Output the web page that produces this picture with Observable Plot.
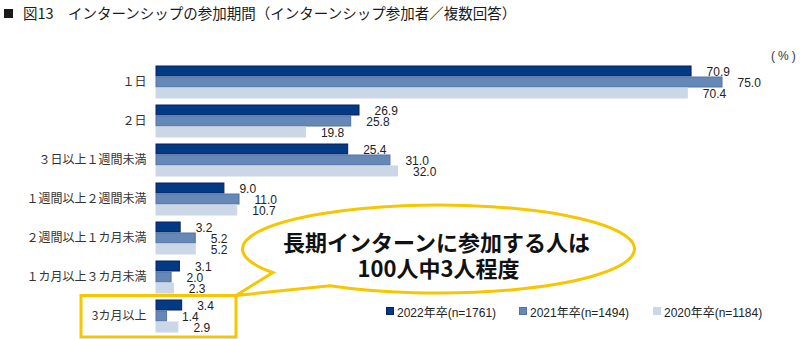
<!DOCTYPE html>
<html lang="ja">
<head>
<meta charset="utf-8">
<script src="https://cdn.jsdelivr.net/npm/d3@7"></script>
<script src="https://cdn.jsdelivr.net/npm/@observablehq/plot@0.6"></script>
<style>
  html, body { margin: 0; padding: 0; background: #fff; }
  body { width: 800px; height: 339px; overflow: hidden; position: relative; font-family: "Noto Sans CJK JP", sans-serif; }
  #title { position: relative; height: 26px; line-height: 26px; font-size: 14.5px; color: #1a1a1a; white-space: nowrap; }
  #title .sq { position: absolute; left: 4px; top: 9px; width: 9px; height: 9px; background: #1a1a1a; }
  #title .tx { position: absolute; left: 23px; top: 0; }
  #unit { position: absolute; left: 771px; top: 49px; font-size: 12px; color: #333; letter-spacing: 3px; font-family: "Liberation Sans", sans-serif; white-space: nowrap; }
  #legend { position: absolute; left: 386px; top: 304px; font-size: 12px; color: #222; font-family: "Liberation Sans", "Noto Sans CJK JP", sans-serif; white-space: nowrap; }
  #legend .it { position: absolute; top: 0; line-height: 18px; }
  #legend .sw { display: inline-block; width: 6px; height: 6px; margin-right: 3px; vertical-align: 2px; }
  svg { display: block; }
</style>
</head>
<body>
<div id="title"><span class="sq"></span><span class="tx">図13　インターンシップの参加期間（インターンシップ参加者／複数回答）</span></div>
<div id="chart"></div>
<div id="unit">(%)</div>
<div id="legend"></div>
<script>
const categories = ["１日", "２日", "３日以上１週間未満", "１週間以上２週間未満", "２週間以上１カ月未満", "１カ月以上３カ月未満", "3カ月以上"];
const seriesNames = ["2022年卒(n=1761)", "2021年卒(n=1494)", "2020年卒(n=1184)"];
const v2022 = [70.9, 26.9, 25.4, 9.0, 3.2, 3.1, 3.4];
const v2021 = [75.0, 25.8, 31.0, 11.0, 5.2, 2.0, 1.4];
const v2020 = [70.4, 19.8, 32.0, 10.7, 5.2, 2.3, 2.9];
const calloutLines = ["長期インターンに参加する人は", "100人中3人程度"];

const fills = ["#023a84", "#6688b6", "#cbd7e7"];
const strokes = ["#0a1f66", "#5374a6", "#cbd7e7"];
const seriesValues = [v2022, v2021, v2020];

const rows = [];
seriesNames.forEach((s, si) => {
  categories.forEach((c, ci) => rows.push({category: c, series: s, si, value: seriesValues[si][ci]}));
});

const marks = [];
seriesNames.forEach((s, si) => {
  marks.push(Plot.barX(rows.filter(d => d.si === si), {
    x: "value", y: "series", fy: "category",
    fill: fills[si], stroke: strokes[si], strokeWidth: 1, insetTop: 0.5, insetBottom: 0.5
  }));
});
marks.push(Plot.text(rows, {
  x: "value", y: "series", fy: "category", text: d => d.value.toFixed(1),
  textAnchor: "start", dx: 15, dy: 1, fontSize: 12, fill: "#222",
  fontFamily: "Liberation Sans, Arial, sans-serif"
}));

const plot = Plot.plot({
  width: 800,
  height: 313,
  marginLeft: 156,
  marginRight: 78,
  marginTop: 36.5,
  marginBottom: 3.5,
  style: {fontFamily: "Noto Sans CJK JP, sans-serif", fontSize: "12px", color: "#333", background: "transparent"},
  x: {domain: [0, 75], axis: null},
  y: {domain: seriesNames, axis: null, padding: 0},
  fy: {domain: categories, paddingInner: 0.15, paddingOuter: 0.075, axis: "left", tickSize: 0, tickPadding: 10, label: null},
  marks
});
document.getElementById("chart").appendChild(plot);

// callout annotation
const svg = d3.select(plot);
const fyS = plot.scale("fy");
const yellow = "#f6c700";
const lastBand = fyS.apply(categories[categories.length - 1]);
const bx0 = 81, bx1 = 236, by0 = lastBand - 3.5, by1 = 311;
svg.append("rect").attr("x", bx0).attr("y", by0).attr("width", bx1 - bx0).attr("height", by1 - by0)
  .attr("fill", "none").attr("stroke", yellow).attr("stroke-width", 3);

const cx = 438.5, cy = 223, rx = 196, ry = 44;
function onEllipse(px) {
  const c = (px - cx) / rx;
  return [px, cy + ry * Math.sqrt(1 - c * c)];
}
const p1 = onEllipse(273), p2 = onEllipse(330);
const path = `M${p1[0]},${p1[1]} L${bx1},${by0} L${p2[0]},${p2[1]} A${rx},${ry} 0 1 0 ${p1[0]},${p1[1]} Z`;
svg.append("path").attr("d", path).attr("fill", "#fff").attr("stroke", yellow).attr("stroke-width", 3).attr("stroke-linejoin", "miter");
const t = svg.append("text").attr("text-anchor", "middle").attr("font-weight", "bold").attr("font-size", 22)
  .attr("fill", "#111").attr("font-family", "Noto Sans CJK JP, sans-serif");
t.append("tspan").attr("x", cx - 2).attr("y", 225).text(calloutLines[0]);
t.append("tspan").attr("x", cx).attr("y", 251).text(calloutLines[1]);

// legend
const lg = document.getElementById("legend");
const lx = [0, 133, 267];
seriesNames.forEach((s, i) => {
  const it = document.createElement("span");
  it.className = "it";
  it.style.left = lx[i] + "px";
  it.innerHTML = `<span class="sw" style="background:${fills[i]};border:0.5px solid ${strokes[i]}"></span>${s}`;
  lg.appendChild(it);
});
</script>
</body>
</html>
